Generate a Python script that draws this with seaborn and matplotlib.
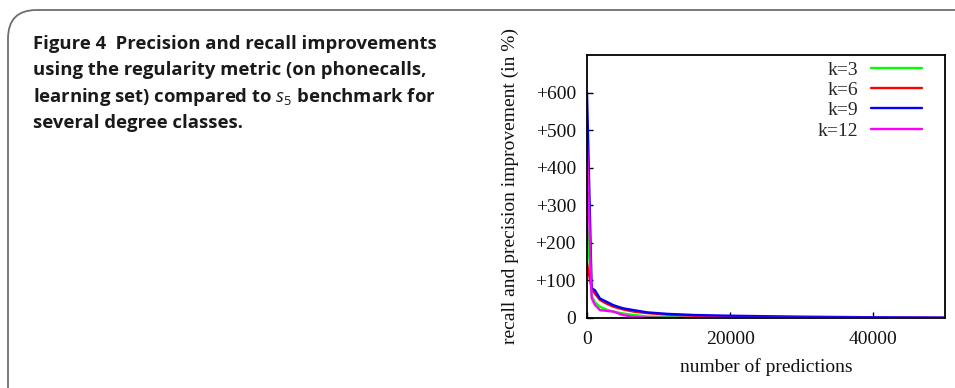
import numpy as np
import pandas as pd
import matplotlib
matplotlib.use("Agg")
import matplotlib.pyplot as plt
from matplotlib.patches import FancyBboxPatch
import seaborn as sns

# ---- data ----
predictions = [0, 650, 1100, 1800, 2750, 3700, 5000, 6500, 8400, 11200, 15000, 20000, 30000, 40000, 50000]
k3  = [260, 60, 42, 30, 22, 17, 12, 8, 4, 2.5, 1.0, 0.5, 0.2, 0.1, 0.0]
k6  = [145, 78, 65, 48, 38, 30, 23, 17, 13, 9, 6, 3, 1.2, 0.6, 0.3]
k9  = [600, 79, 74, 52, 43, 34, 26, 21, 15, 11, 8, 6, 3.5, 2, 1]
k12 = [460, 53, 35, 21, 19, 17, 8, 3, 1, 0.3, 0.1, 0.0, 0.0, 0.0, 0.0]
series_names = ["k=3", "k=6", "k=9", "k=12"]
colors = ["#00ff00", "#ff0000", "#0000ff", "#ff00ff"]
yticks = [0, 100, 200, 300, 400, 500, 600]
ytick_labels = ["0", "+100", "+200", "+300", "+400", "+500", "+600"]
xticks = [0, 20000, 40000]

rows = []
for name, vals in zip(series_names, [k3, k6, k9, k12]):
    for x, v in zip(predictions, vals):
        rows.append({"predictions": x, "improvement": v, "k": name})
df = pd.DataFrame(rows)

sns.set_theme(style="white")
plt.rcParams["font.family"] = ["Liberation Serif", "DejaVu Serif"]
plt.rcParams["mathtext.fontset"] = "custom"
plt.rcParams["mathtext.it"] = "Open Sans:italic"
plt.rcParams["mathtext.rm"] = "Open Sans"

fig = plt.figure(figsize=(9.55, 3.88), dpi=100)
ax = fig.add_axes([587/955, 1-318/388, (945-587)/955, (318-55)/388])

sns.lineplot(data=df, x="predictions", y="improvement", hue="k",
             hue_order=series_names, palette=colors, linewidth=1.7, ax=ax,
             estimator=None, sort=False)

ax.set_xlim(0, 50000)
ax.set_ylim(0, 700)
ax.set_xticks(xticks)
ax.set_xticklabels([str(t) for t in xticks])
ax.set_yticks(yticks)
ax.set_yticklabels(ytick_labels)
ax.tick_params(axis="both", direction="in", length=4, width=1, labelsize=14,
               color="black", labelcolor="#111111",
               bottom=True, left=True, top=False, right=False)
ax.tick_params(axis="y", pad=8)
ax.tick_params(axis="x", pad=9)
for s in ax.spines.values():
    s.set_color("black")
    s.set_linewidth(1.3)
ax.set_xlabel("number of predictions", fontsize=14, labelpad=7.5, color="#111111")
ax.set_ylabel("recall and precision improvement (in %)", fontsize=14, labelpad=12, color="#111111")

leg = ax.legend(loc="upper right", bbox_to_anchor=(1-23/358, 1-6/263),
                markerfirst=False, frameon=False, fontsize=14,
                handlelength=2.6, handletextpad=0.7, labelspacing=0.14,
                borderpad=0, borderaxespad=0)
for line in leg.get_lines():
    line.set_linewidth(1.7)

# caption frame
frame = FancyBboxPatch((8/955, -0.2), 1.2, 1-10/388+0.2,
                       boxstyle="round,pad=0,rounding_size=0.03",
                       transform=fig.transFigure, fill=False,
                       edgecolor="#6e6e6e", linewidth=1.3, mutation_aspect=955/388)
fig.patches.append(frame)

cap_lines = ["Figure 4  Precision and recall improvements",
             "using the regularity metric (on phonecalls,",
             r"learning set) compared to $\mathit{s}_{5}$ benchmark for",
             "several degree classes."]
for i, line in enumerate(cap_lines):
    fig.text(33/955, 1-(44+26.3*i)/388, line, fontsize=13.3, fontweight="bold",
             family=["Open Sans", "DejaVu Sans"], color="#1a1a1a",
             ha="left", va="center")

fig.savefig("out.png", dpi=100)
